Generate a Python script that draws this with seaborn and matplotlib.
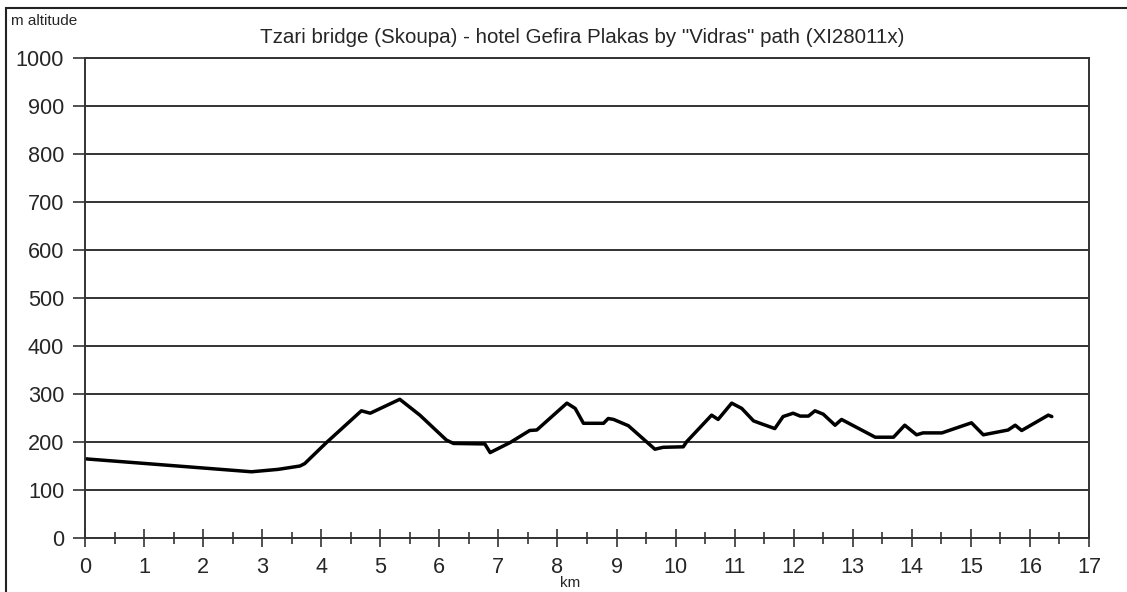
import numpy as np
import pandas as pd
import matplotlib.pyplot as plt
import seaborn as sns
from matplotlib.ticker import MultipleLocator
from matplotlib.patches import Rectangle

# elevation profile
km = [0.0, 2.82, 3.27, 3.64, 3.72, 4.09, 4.68, 4.83, 5.33, 5.67, 6.12, 6.24,
      6.77, 6.86, 7.2, 7.53, 7.65, 8.16, 8.3, 8.44, 8.78, 8.86, 8.95, 9.2,
      9.65, 9.79, 10.13, 10.19, 10.61, 10.72, 10.95, 11.12, 11.32, 11.43,
      11.68, 11.82, 11.99, 12.11, 12.25, 12.36, 12.5, 12.7, 12.81, 13.38,
      13.69, 13.88, 14.08, 14.19, 14.51, 15.01, 15.21, 15.63, 15.75, 15.86,
      16.17, 16.31, 16.37]
altitude = [165, 138, 143, 150, 155, 199, 265, 260, 289, 256, 204, 197,
            196, 178, 199, 224, 225, 281, 270, 239, 239, 249, 247, 234,
            185, 189, 190, 201, 256, 247, 281, 270, 244, 239,
            228, 253, 260, 254, 254, 265, 258, 235, 247, 210,
            210, 235, 215, 219, 219, 240, 215, 225, 235, 224,
            246, 256, 253]

title = 'Tzari bridge (Skoupa) - hotel Gefira Plakas by "Vidras" path (XI28011x)'

df = pd.DataFrame({"km": km, "altitude": altitude})

sns.set_style("white")
plt.rcParams['font.family'] = ['Liberation Sans', 'DejaVu Sans']

fig = plt.figure(figsize=(11.27, 5.92), dpi=100)
ax = fig.add_axes([0.0754, 0.0912, 0.8909, 0.8108])

sns.lineplot(data=df, x="km", y="altitude", sort=False, color="black",
             linewidth=2.5, ax=ax)

ax.set_xlim(0, 17)
ax.set_ylim(0, 1000)
ax.xaxis.set_major_locator(MultipleLocator(1))
ax.xaxis.set_minor_locator(MultipleLocator(0.5))
ax.yaxis.set_major_locator(MultipleLocator(100))
ax.yaxis.grid(True, color="#333333", linewidth=1.4)
ax.xaxis.grid(False)
ax.tick_params(axis="x", which="major", direction="inout", length=13, width=1.2,
               color="#333333", labelsize=15.6, pad=7, bottom=True)
ax.tick_params(axis="x", which="minor", direction="inout", length=9, width=1.2,
               color="#333333", bottom=True)
ax.tick_params(axis="y", which="major", direction="out", length=9, width=1.2,
               color="#333333", labelsize=15.6, pad=6, left=True)
for s in ax.spines.values():
    s.set_color("#333333")
    s.set_linewidth(1.4)
ax.set_xlabel("")
ax.set_ylabel("")

fig.text(0.517, 0.937, title, ha="center", va="center", fontsize=14.8)
fig.text(0.010, 0.965, "m altitude", ha="left", va="center", fontsize=11)
fig.text(0.506, 0.015, "km", ha="center", va="center", fontsize=11)

# outer frame of the original picture
fig.patches.append(Rectangle((0.005, -0.05), 1.1, 1.036, transform=fig.transFigure,
                             fill=False, edgecolor="#222222", linewidth=1.5))

fig.savefig("out.png", dpi=100)
